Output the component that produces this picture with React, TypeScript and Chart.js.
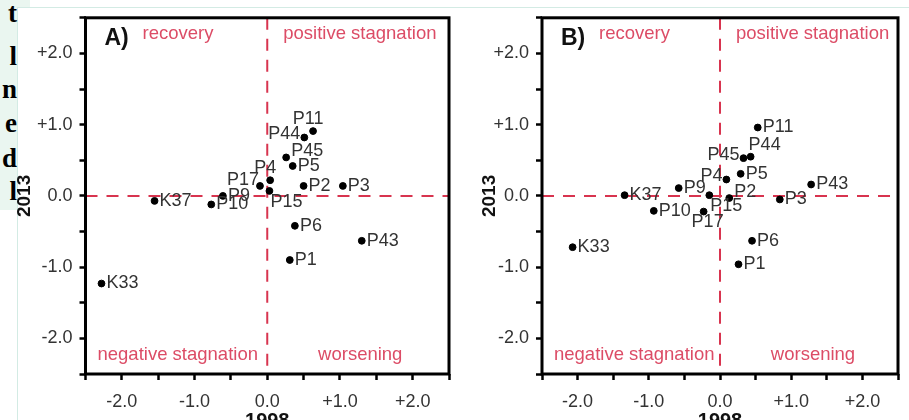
import React, { useEffect, useRef } from 'react';
import { Chart, registerables } from 'chart.js';

Chart.register(...registerables);

// ---------- data ----------
const pointNames = ['P1', 'P2', 'P3', 'P4', 'P5', 'P6', 'P9', 'P10', 'P11', 'P15', 'P17', 'P43', 'P44', 'P45', 'K33', 'K37'];
const panelA_x1998 = [0.31, 0.50, 1.04, 0.04, 0.35, 0.38, -0.61, -0.77, 0.63, 0.03, -0.10, 1.30, 0.51, 0.26, -2.28, -1.55];
const panelA_y2013 = [-0.90, 0.14, 0.14, 0.22, 0.42, -0.42, 0.00, -0.12, 0.91, 0.07, 0.14, -0.63, 0.82, 0.54, -1.23, -0.07];
const panelB_x1998 = [0.26, 0.13, 0.84, 0.09, 0.29, 0.45, -0.58, -0.93, 0.53, -0.15, -0.23, 1.28, 0.43, 0.33, -2.07, -1.34];
const panelB_y2013 = [-0.96, -0.03, -0.05, 0.23, 0.31, -0.63, 0.11, -0.21, 0.96, 0.01, -0.22, 0.16, 0.55, 0.53, -0.72, 0.01];
const panelLetters = ['A)', 'B)'];
const quadrantNames = ['recovery', 'positive stagnation', 'negative stagnation', 'worsening'];
const xAxisTitle = '1998';
const yAxisTitle = '2013';
const axisMin = -2.5;
const axisMax = 2.5;
const tickStep = 0.5;
const sidebarLetters = ['t', 'l', 'n', 'e', 'd', 'l'];

// label placement codes (where each point's name sits relative to its dot)
const placementA = ['r', 'r', 'r', 't', 'r', 'r', 'r', 'r', 't', 'br', 'ul', 'r', 'l', 'ur', 'r', 'r'];
const placementB = ['r', 'ur', 'r', 'l', 'r', 'r', 'r', 'r', 'r', 'br', 'b', 'r', 'tr', 'l', 'r', 'r'];

const FAMILY = '"Liberation Sans", Arial, Helvetica, sans-serif';

const PLACE: Record<string, { dx: number; dy: number; align: CanvasTextAlign }> = {
  r: { dx: 5, dy: 0, align: 'left' },
  l: { dx: -4, dy: -3, align: 'right' },
  t: { dx: -5, dy: -12, align: 'center' },
  b: { dx: 4, dy: 10, align: 'center' },
  ur: { dx: 5, dy: -6, align: 'left' },
  tr: { dx: -2, dy: -12, align: 'left' },
  ul: { dx: -1, dy: -6, align: 'right' },
  br: { dx: 1, dy: 11, align: 'left' },
};

const fmtTick = (v: number) => {
  if (Math.abs(v - Math.round(v)) > 1e-6) return '';
  if (Math.abs(v) < 1e-6) return '0.0';
  return (v > 0 ? '+' : '') + v.toFixed(1);
};

const overlayPlugin = {
  id: 'overlay',
  beforeDatasetsDraw(chart: any) {
    const { ctx, chartArea: a, scales } = chart;
    const x0 = scales.x.getPixelForValue(0);
    const y0 = scales.y.getPixelForValue(0);
    ctx.save();
    ctx.strokeStyle = '#d8344f';
    ctx.lineWidth = 2;
    ctx.setLineDash([12, 9]);
    ctx.beginPath();
    ctx.moveTo(a.left, y0);
    ctx.lineTo(a.right, y0);
    ctx.stroke();
    ctx.beginPath();
    ctx.moveTo(x0, a.top);
    ctx.lineTo(x0, a.bottom);
    ctx.stroke();
    ctx.setLineDash([]);

    ctx.fillStyle = '#dc4c66';
    ctx.font = `18.5px ${FAMILY}`;
    ctx.textBaseline = 'middle';
    ctx.textAlign = 'left';
    ctx.fillText(quadrantNames[0], a.left + 57, a.top + 16);
    ctx.fillText(quadrantNames[1], x0 + 16, a.top + 16);
    ctx.fillText(quadrantNames[2], a.left + 12, a.bottom - 19);
    ctx.textAlign = 'center';
    ctx.fillText(quadrantNames[3], x0 + 93, a.bottom - 19);
    ctx.restore();
  },
  afterDatasetsDraw(chart: any, _args: any, opts: any) {
    const { ctx, chartArea: a } = chart;
    const meta = chart.getDatasetMeta(0);
    ctx.save();
    ctx.fillStyle = '#333333';
    ctx.font = `18px ${FAMILY}`;
    ctx.textBaseline = 'middle';
    meta.data.forEach((el: any, i: number) => {
      const p = PLACE[opts.placement[i]] || PLACE.r;
      ctx.textAlign = p.align;
      ctx.fillText(pointNames[i], el.x + p.dx, el.y + p.dy);
    });
    ctx.fillStyle = '#111';
    ctx.font = `bold 23px ${FAMILY}`;
    ctx.textAlign = 'left';
    ctx.fillText(opts.letter, a.left + 19, a.top + 21);
    ctx.strokeStyle = '#000';
    ctx.lineWidth = 3;
    ctx.strokeRect(a.left, a.top, a.right - a.left, a.bottom - a.top);
    ctx.restore();
  },
};

type PanelProps = {
  xs: number[];
  ys: number[];
  letter: string;
  placement: string[];
  left: number;
  width: number;
  yAxisWidth: number;
  padRight: number;
  yTitlePad: number;
};

const HEIGHT = 450;

function Panel(props: PanelProps) {
  const ref = useRef<HTMLCanvasElement | null>(null);
  useEffect(() => {
    if (!ref.current) return;
    const data = props.xs.map((x, i) => ({ x, y: props.ys[i] }));
    const tickGrid = {
      display: true,
      drawOnChartArea: false,
      drawTicks: true,
      tickLength: 6,
      tickWidth: 2.5,
      tickColor: '#000',
    };
    const chart = new Chart(ref.current, {
      type: 'scatter',
      data: {
        datasets: [
          {
            data,
            backgroundColor: '#000',
            borderColor: '#000',
            pointRadius: 3.4,
            pointHoverRadius: 3.4,
          },
        ],
      },
      options: {
        animation: false,
        responsive: false,
        maintainAspectRatio: false,
        events: [],
        layout: { padding: { left: 0, top: 9, right: props.padRight, bottom: 0 } },
        plugins: {
          legend: { display: false },
          tooltip: { enabled: false },
          overlay: { letter: props.letter, placement: props.placement },
        } as any,
        scales: {
          x: {
            type: 'linear',
            min: axisMin,
            max: axisMax,
            afterFit: (s: any) => {
              s.height = 76;
            },
            border: { display: false },
            grid: tickGrid,
            ticks: {
              stepSize: tickStep,
              autoSkip: false,
              maxRotation: 0,
              padding: 11,
              color: '#333',
              font: { size: 18, family: FAMILY },
              callback: (v: any) => fmtTick(Number(v)),
            },
            title: {
              display: true,
              text: xAxisTitle,
              color: '#111',
              font: { size: 20, weight: 'bold', family: FAMILY },
              padding: { top: 0, bottom: 17 },
            },
          },
          y: {
            type: 'linear',
            min: axisMin,
            max: axisMax,
            afterFit: (s: any) => {
              s.width = props.yAxisWidth;
            },
            border: { display: false },
            grid: tickGrid,
            ticks: {
              stepSize: tickStep,
              autoSkip: false,
              padding: 7,
              color: '#333',
              font: { size: 18, family: FAMILY },
              callback: (v: any) => fmtTick(Number(v)),
            },
            title: {
              display: true,
              text: yAxisTitle,
              color: '#111',
              font: { size: 19, weight: 'bold', family: FAMILY },
              padding: { top: props.yTitlePad, bottom: 0 },
            },
          },
        },
      } as any,
      plugins: [overlayPlugin],
    });
    return () => chart.destroy();
  }, []);
  return (
    <canvas
      ref={ref}
      width={props.width}
      height={HEIGHT}
      style={{ position: 'absolute', left: props.left, top: 0, width: props.width, height: HEIGHT }}
    />
  );
}

const sidebarBaselines = [22, 65, 98, 132, 167, 200];

export default function App() {
  return (
    <div
      style={{
        position: 'fixed',
        left: 0,
        top: 0,
        width: 909,
        height: 420,
        overflow: 'hidden',
        background: '#fff',
      }}
    >
      <div style={{ position: 'absolute', left: 0, top: 0, width: 30, height: 7, background: '#eaf6f0' }} />
      <div style={{ position: 'absolute', left: 0, top: 0, width: 17, height: 210, background: '#eaf6f0' }} />
      <div style={{ position: 'absolute', left: 17, top: 7, width: 892, height: 1, background: '#d3ebe4' }} />
      <div style={{ position: 'absolute', left: 17, top: 7, width: 1, height: 413, background: '#d3ebe4' }} />
      {sidebarLetters.map((ch, i) => (
        <div
          key={i}
          style={{
            position: 'absolute',
            right: 909 - 17,
            top: sidebarBaselines[i] - 23,
            font: 'bold 27px "Liberation Serif", "Times New Roman", serif',
            lineHeight: '28px',
            color: '#000',
            textAlign: 'right',
          }}
        >
          {ch}
        </div>
      ))}
      <Panel
        xs={panelA_x1998}
        ys={panelA_y2013}
        letter={panelLetters[0]}
        placement={placementA}
        left={0}
        width={460}
        yAxisWidth={85.5}
        padRight={9.5}
        yTitlePad={13.5}
      />
      <Panel
        xs={panelB_x1998}
        ys={panelB_y2013}
        letter={panelLetters[1]}
        placement={placementB}
        left={460}
        width={449}
        yAxisWidth={82}
        padRight={1.5}
        yTitlePad={18.6}
      />
    </div>
  );
}
